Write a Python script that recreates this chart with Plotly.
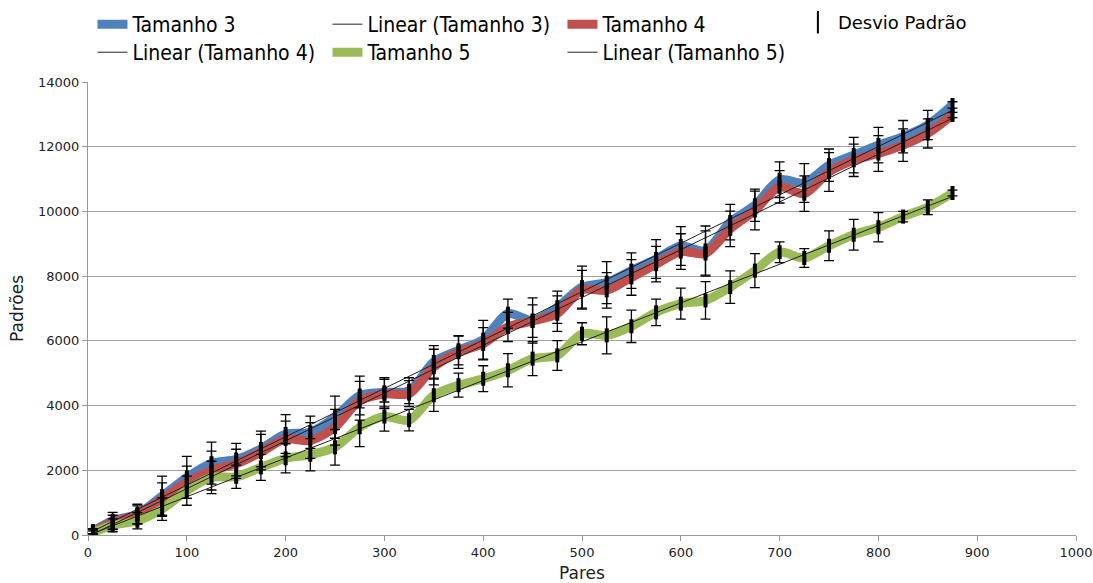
import numpy as np
import plotly.graph_objects as go

pares = [5, 25, 50, 75, 100, 125, 150, 175, 200, 225, 250, 275, 300, 325, 350, 375,
         400, 425, 450, 475, 500, 525, 550, 575, 600, 625, 650, 675, 700, 725, 750,
         775, 800, 825, 850, 875]

tamanho3 = [120, 440, 650, 1200, 1780, 2220, 2330, 2660, 3120, 3175, 3640, 4310, 4410,
            4460, 5350, 5710, 6035, 6840, 6630, 7040, 7660, 7800, 8170, 8530, 8930,
            8790, 9670, 10190, 10980, 10880, 11430, 11740, 12050, 12310, 12670, 13290]
tamanho4 = [100, 390, 620, 1110, 1630, 1990, 2200, 2560, 2970, 2920, 3330, 4150, 4360,
            4370, 5190, 5650, 5910, 6430, 6610, 6840, 7580, 7560, 7960, 8370, 8760,
            8700, 9460, 10030, 10760, 10550, 11220, 11580, 11790, 12050, 12410, 12980]
tamanho5 = [80, 300, 440, 800, 1370, 1780, 1800, 2090, 2370, 2480, 2710, 3330, 3660,
            3550, 4320, 4630, 4830, 5090, 5450, 5550, 6220, 6170, 6450, 6880, 7150,
            7250, 7660, 8170, 8740, 8560, 8940, 9280, 9510, 9840, 10130, 10570]

desvio3 = [80, 260, 300, 620, 650, 650, 500, 550, 600, 500, 650, 600, 450, 400, 500, 450,
           600, 450, 700, 500, 650, 650, 550, 600, 600, 760, 550, 500, 550, 600, 500,
           550, 550, 500, 450, 100]
desvio4 = [60, 220, 280, 500, 500, 600, 450, 550, 550, 550, 550, 600, 450, 400, 550, 500,
           500, 450, 500, 550, 600, 550, 550, 550, 550, 700, 550, 600, 500, 550, 600,
           500, 550, 500, 450, 80]
desvio5 = [50, 200, 250, 350, 450, 500, 360, 400, 450, 500, 550, 600, 450, 330, 500, 370,
           400, 515, 525, 460, 340, 570, 500, 410, 480, 580, 500, 525, 320, 290, 460,
           475, 450, 160, 230, 90]

series = [
    ("Tamanho 3", tamanho3, desvio3, "#4f81bd"),
    ("Tamanho 4", tamanho4, desvio4, "#c0504d"),
    ("Tamanho 5", tamanho5, desvio5, "#9bbb59"),
]

FONT = "DejaVu Sans"
LEGFONT = "DejaVu Sans Condensed, DejaVu Sans"
fig = go.Figure()

# legend slots: row 1 = legend, row 2 = legend3
series_leg = ["legend", "legend", "legend3"]
trend_leg = ["legend", "legend3", "legend3"]

# thick smoothed series lines
for i, (name, ys, err, color) in enumerate(series):
    fig.add_trace(go.Scatter(
        x=pares, y=ys, mode="lines", name=name,
        line=dict(color=color, width=9, shape="spline", smoothing=0.8),
        legendrank=2 * i + 1, legend=series_leg[i],
    ))

# linear trendlines
for i, (name, ys, err, color) in enumerate(series):
    a, b = np.polyfit(pares, ys, 1)
    xs = [pares[0], pares[-1]]
    fig.add_trace(go.Scatter(
        x=xs, y=[a * v + b for v in xs], mode="lines",
        name=f"Linear ({name})",
        line=dict(color="#222222", width=1),
        legendrank=2 * i + 2, legend=trend_leg[i],
    ))

# standard deviation bars
for name, ys, err, color in series:
    fig.add_trace(go.Scatter(
        x=pares, y=ys, mode="markers", showlegend=False,
        marker=dict(symbol="line-ns", size=10, color="black",
                    line=dict(width=4, color="black")),
        error_y=dict(type="data", array=err, visible=True, color="black",
                     thickness=1.3, width=5),
    ))

# legend entry for the deviation bars
fig.add_trace(go.Scatter(
    x=[None], y=[None], mode="markers", name="Desvio Padrão",
    marker=dict(symbol="line-ns", size=18, color="black",
                line=dict(width=2, color="black")),
    legend="legend2",
))

leg_common = dict(
    orientation="h", xref="container", yref="container",
    xanchor="left", yanchor="top",
    entrywidth=190, entrywidthmode="pixels",
    font=dict(family=LEGFONT, size=21, color="black"),
    bgcolor="rgba(0,0,0,0)", itemwidth=30,
)

fig.update_layout(
    width=1093, height=583,
    margin=dict(l=88, r=17, t=82, b=48),
    paper_bgcolor="white", plot_bgcolor="white",
    font=dict(family=FONT, color="black"),
    legend=dict(x=0.0846, y=0.9931, **leg_common),
    legend3=dict(x=0.0846, y=0.945, **leg_common),
    legend2=dict(
        orientation="h", x=0.730, y=0.993, xref="container", yref="container",
        xanchor="left", yanchor="top",
        font=dict(family=FONT, size=18, color="black"),
        bgcolor="rgba(0,0,0,0)", itemwidth=30,
    ),
    xaxis=dict(
        range=[0, 1000], dtick=100, tick0=0, automargin=False,
        showgrid=False, zeroline=False,
        showline=True, linecolor="#999999", linewidth=1,
        ticks="outside", ticklen=5, tickcolor="#999999",
        tickfont=dict(family=FONT, size=13, color="#222222"),
        title=dict(text="Pares", font=dict(family=FONT, size=17, color="#222222"),
                   standoff=8),
    ),
    yaxis=dict(
        range=[0, 14000], dtick=2000, tick0=0, tickformat="d", automargin=False,
        showgrid=True, gridcolor="#a0a0a0", gridwidth=1, zeroline=False,
        showline=True, linecolor="#999999", linewidth=1,
        ticks="outside", ticklen=5, tickcolor="#999999",
        tickfont=dict(family=FONT, size=13, color="#222222"),
        title=dict(text="Padrões", font=dict(family=FONT, size=17, color="#222222"),
                   standoff=10),
    ),
)

fig.write_html(
    "out.html",
    config={"displayModeBar": False},
    post_script="document.body.style.margin='0';document.body.style.overflow='hidden';",
)
